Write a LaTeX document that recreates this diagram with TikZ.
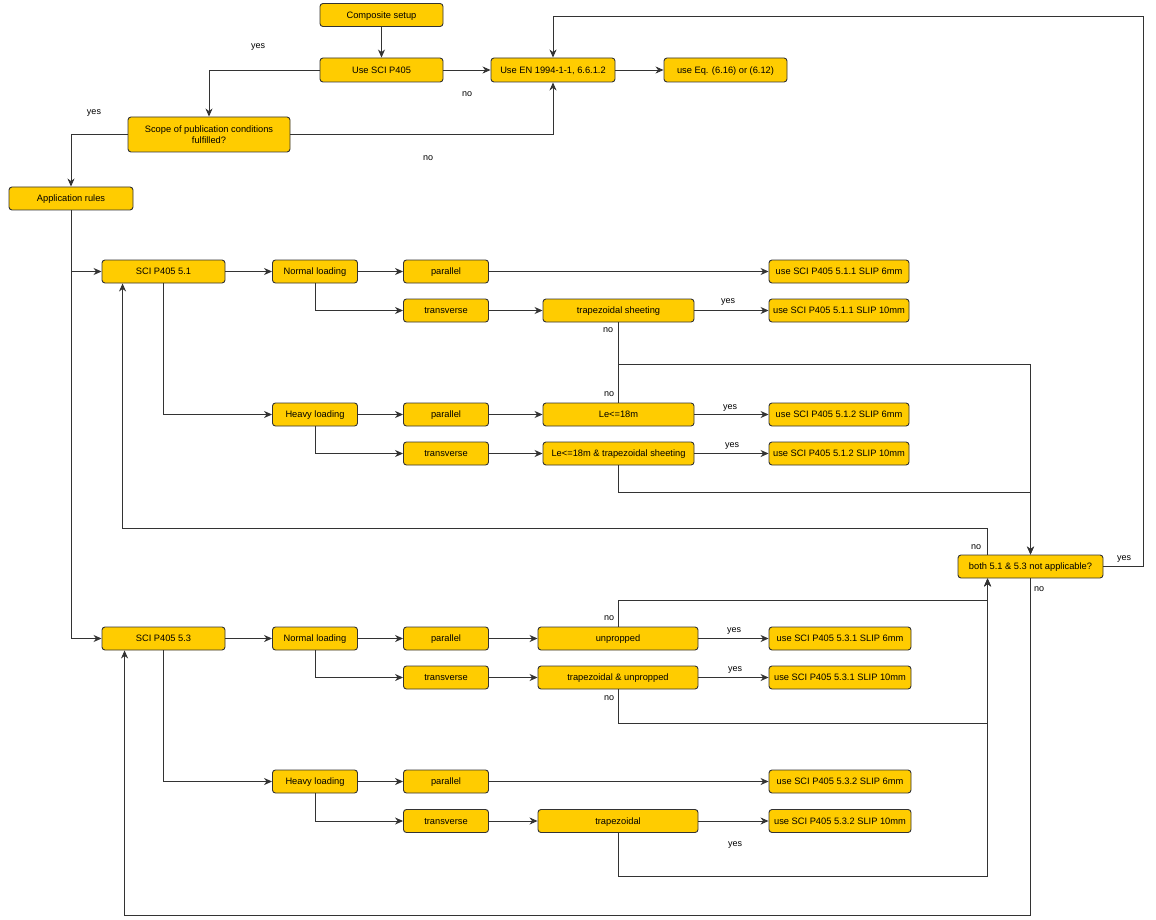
\documentclass[tikz,border=0pt]{standalone}
\usepackage{fontspec}
\setmainfont{Liberation Sans}
\usetikzlibrary{arrows.meta}
\definecolor{boxyellow}{HTML}{FFCC00}
\definecolor{linegray}{HTML}{333333}
\tikzset{
  box/.style={draw=linegray, fill=boxyellow, rounded corners=3pt, inner sep=1pt,
    line width=0.9pt, font=\fontsize{9.3}{11}\selectfont, align=center,
    text height=6.6pt, text depth=0pt},
  arr/.style={draw=linegray, line width=0.9pt, -{Stealth[length=8pt,width=7pt,inset=2.5pt]}},
  ln/.style={draw=linegray, line width=0.9pt},
  lbl/.style={font=\fontsize{9}{10}\selectfont, inner sep=0pt},
}
\begin{document}
\begin{tikzpicture}[x=1pt,y=-1pt]
\useasboundingbox (0,0) rectangle (1156,920);
% nodes
\node[box, minimum width=123pt, minimum height=23pt] (cs) at (381.5,15) {Composite setup};
\node[box, minimum width=123pt, minimum height=24pt] (usp) at (381.5,70) {Use SCI P405};
\node[box, minimum width=124pt, minimum height=24pt] (en) at (553,70) {Use EN 1994-1-1, 6.6.1.2};
\node[box, minimum width=123pt, minimum height=24pt] (eq) at (725.5,70) {use Eq. (6.16) or (6.12)};
\node[box, minimum width=162pt, minimum height=35pt, text height=, text depth=] (scope) at (209,134.5) {Scope of publication conditions\\fulfilled?};
\node[box, minimum width=124pt, minimum height=23pt] (app) at (71,198.5) {Application rules};
% 5.1
\node[box, minimum width=123pt, minimum height=23pt] (s51) at (163.5,271.5) {SCI P405 5.1};
\node[box, minimum width=85pt, minimum height=23pt] (nl1) at (315,271.5) {Normal loading};
\node[box, minimum width=85pt, minimum height=23pt] (par1) at (446,271.5) {parallel};
\node[box, minimum width=85pt, minimum height=23pt] (tr1) at (446,310.5) {transverse};
\node[box, minimum width=151pt, minimum height=23pt] (trap1) at (618.5,310.5) {trapezoidal sheeting};
\node[box, minimum width=140pt, minimum height=23pt] (r511a) at (839,271.5) {use SCI P405 5.1.1 SLIP 6mm};
\node[box, minimum width=140pt, minimum height=23pt] (r511b) at (839,310.5) {use SCI P405 5.1.1 SLIP 10mm};
\node[box, minimum width=85pt, minimum height=23pt] (hl1) at (315,414.5) {Heavy loading};
\node[box, minimum width=85pt, minimum height=23pt] (par2) at (446,414.5) {parallel};
\node[box, minimum width=85pt, minimum height=23pt] (tr2) at (446,453.5) {transverse};
\node[box, minimum width=151pt, minimum height=23pt] (le1) at (618.5,414.5) {Le<=18m};
\node[box, minimum width=151pt, minimum height=23pt] (le2) at (618.5,453.5) {Le<=18m \& trapezoidal sheeting};
\node[box, minimum width=140pt, minimum height=23pt] (r512a) at (839,414.5) {use SCI P405 5.1.2 SLIP 6mm};
\node[box, minimum width=140pt, minimum height=23pt] (r512b) at (839,453.5) {use SCI P405 5.1.2 SLIP 10mm};
% decision
\node[box, minimum width=145pt, minimum height=23pt] (both) at (1030.5,566.5) {both 5.1 \& 5.3 not applicable?};
% 5.3
\node[box, minimum width=123pt, minimum height=23pt] (s53) at (163.5,638.5) {SCI P405 5.3};
\node[box, minimum width=85pt, minimum height=23pt] (nl3) at (315,638.5) {Normal loading};
\node[box, minimum width=85pt, minimum height=23pt] (par3) at (446,638.5) {parallel};
\node[box, minimum width=85pt, minimum height=23pt] (tr3) at (446,677.5) {transverse};
\node[box, minimum width=160pt, minimum height=23pt] (unp) at (618,638.5) {unpropped};
\node[box, minimum width=160pt, minimum height=23pt] (trapu) at (618,677.5) {trapezoidal \& unpropped};
\node[box, minimum width=142pt, minimum height=23pt] (r531a) at (840,638.5) {use SCI P405 5.3.1 SLIP 6mm};
\node[box, minimum width=142pt, minimum height=23pt] (r531b) at (840,677.5) {use SCI P405 5.3.1 SLIP 10mm};
\node[box, minimum width=85pt, minimum height=23pt] (hl3) at (315,781.5) {Heavy loading};
\node[box, minimum width=85pt, minimum height=23pt] (par4) at (446,781.5) {parallel};
\node[box, minimum width=85pt, minimum height=23pt] (tr4) at (446,821) {transverse};
\node[box, minimum width=160pt, minimum height=23pt] (trap3) at (618,821) {trapezoidal};
\node[box, minimum width=142pt, minimum height=23pt] (r532a) at (840,781.5) {use SCI P405 5.3.2 SLIP 6mm};
\node[box, minimum width=142pt, minimum height=23pt] (r532b) at (840,821) {use SCI P405 5.3.2 SLIP 10mm};
% top connectors
\draw[arr] (cs) -- (usp);
\draw[arr] (usp) -- (en);
\draw[arr] (en) -- (eq);
\draw[arr] (usp.west) -| (scope.north);
\draw[arr] (scope.east) -| (en.south);
\draw[arr] (scope.west) -| (app.north);
\draw[arr] (app.south) |- (s53.west);
\draw[arr] (app.south |- s51.west) -- (s51.west);
% 5.1 connectors
\draw[arr] (s51) -- (nl1);
\draw[arr] (nl1) -- (par1);
\draw[arr] (nl1.south) |- (tr1.west);
\draw[arr] (par1) -- (r511a);
\draw[arr] (tr1) -- (trap1);
\draw[arr] (trap1) -- (r511b);
\draw[arr] (s51.south) |- (hl1.west);
\draw[arr] (hl1) -- (par2);
\draw[arr] (hl1.south) |- (tr2.west);
\draw[arr] (par2) -- (le1);
\draw[arr] (tr2) -- (le2);
\draw[arr] (le1) -- (r512a);
\draw[arr] (le2) -- (r512b);
\draw[arr] (trap1.south) -- ++(0,41.5) -| (both.north);
\draw[ln] (le1.north) -- ++(0,-39.5);
\draw[arr] (le2.south) -- ++(0,27) -| (both.north);
% decision loops
\draw[arr] ([xshift=30pt]both.north west) -- ++(0,-26) -| ([xshift=21pt]s51.south west);
\draw[arr] (both.east) -- ++(40,0) -- ++(0,-550.5) -| (en.north);
\draw[arr] (both.south) -- ++(0,337) -| ([xshift=23pt]s53.south west);
% 5.3 connectors
\draw[arr] (s53) -- (nl3);
\draw[arr] (nl3) -- (par3);
\draw[arr] (nl3.south) |- (tr3.west);
\draw[arr] (par3) -- (unp);
\draw[arr] (tr3) -- (trapu);
\draw[arr] (unp) -- (r531a);
\draw[arr] (trapu) -- (r531b);
\draw[arr] (s53.south) |- (hl3.west);
\draw[arr] (hl3) -- (par4);
\draw[arr] (hl3.south) |- (tr4.west);
\draw[arr] (par4) -- (r532a);
\draw[arr] (tr4) -- (trap3);
\draw[arr] (trap3) -- (r532b);
\draw[arr] (unp.north) -- ++(0,-26) -| ([xshift=30pt]both.south west);
\draw[arr] (trapu.south) -- ++(0,34) -| ([xshift=30pt]both.south west);
\draw[arr] (trap3.south) -- ++(0,43) -| ([xshift=30pt]both.south west);
% labels
\node[lbl] (l1) at (258,47) {yes};
\node[lbl] (l2) at (467,94) {no};
\node[lbl] (l3) at (94,113) {yes};
\node[lbl] (l4) at (428,158) {no};
\node[lbl] (l5) at (728,302) {yes};
\node[lbl] (l6) at (608,330) {no};
\node[lbl] (l7) at (609,394) {no};
\node[lbl] (l8) at (730,408) {yes};
\node[lbl] (l9) at (732,446) {yes};
\node[lbl] (l10) at (976,547) {no};
\node[lbl] (l11) at (1124,559) {yes};
\node[lbl] (l12) at (1039,589) {no};
\node[lbl] (l13) at (609,618) {no};
\node[lbl] (l14) at (734,631) {yes};
\node[lbl] (l15) at (735,670) {yes};
\node[lbl] (l16) at (609,698) {no};
\node[lbl] (l17) at (735,845) {yes};
\end{tikzpicture}
\end{document}
